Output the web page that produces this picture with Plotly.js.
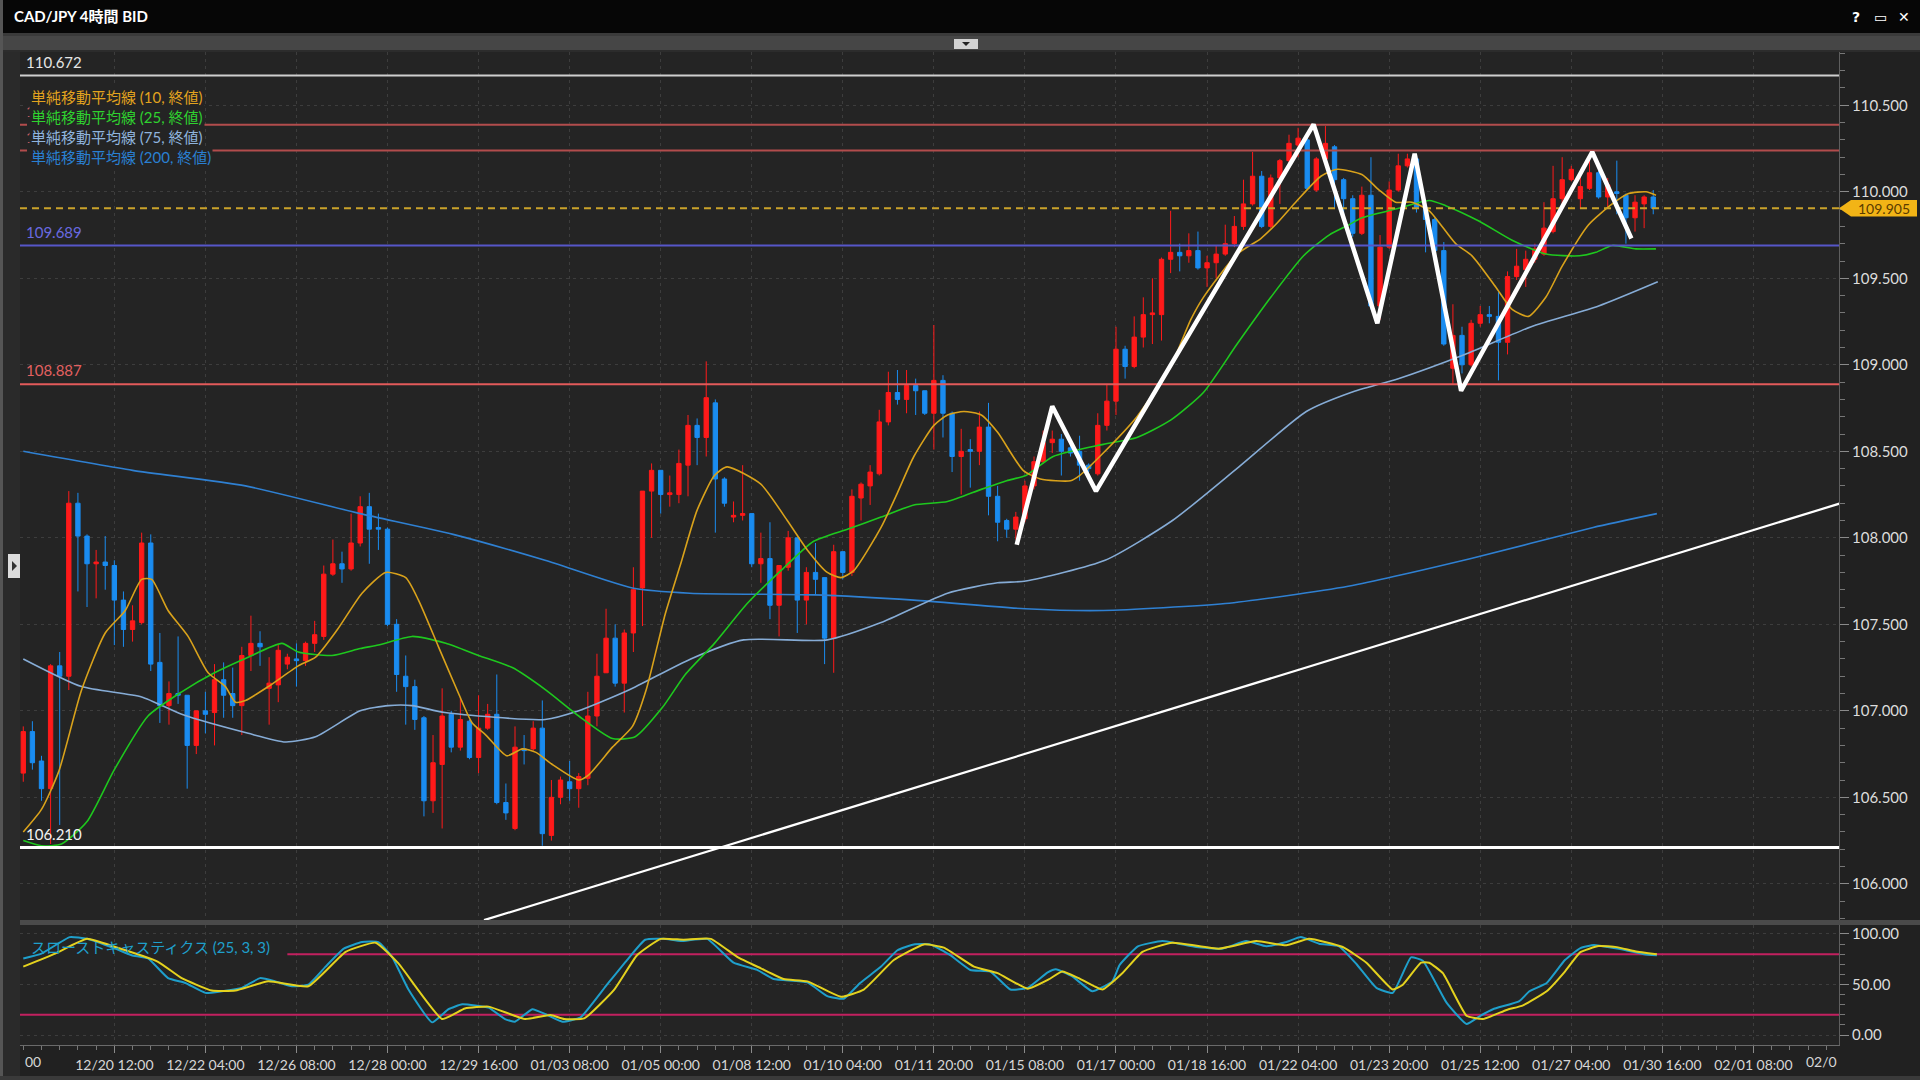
<!DOCTYPE html>
<html><head><meta charset="utf-8">
<script src="https://cdn.plot.ly/plotly-3.0.1.min.js"></script>
<style>html,body{margin:0;padding:0;background:#1e1e1e;overflow:hidden}#chart{width:1920px;height:1080px}</style>
</head><body><div id="chart"></div>
<script>
// ---------- DATA ----------
const tickBars = [10,20,30,40,50,60,70,80,90,100,110,120,130,140,150,160,170,180,190];
const tickLabels = ["12/20 12:00","12/22 04:00","12/26 08:00","12/28 00:00","12/29 16:00","01/03 08:00","01/05 00:00","01/08 12:00","01/10 04:00","01/11 20:00","01/15 08:00","01/17 00:00","01/18 16:00","01/22 04:00","01/23 20:00","01/25 12:00","01/27 04:00","01/30 16:00","02/01 08:00"];

const opens = [
106.64,106.88,106.71,106.55,107.26,107.20,108.20,108.01,107.85,107.86,
107.84,107.64,107.47,107.51,107.97,107.28,107.03,107.10,107.09,106.80,
107.00,106.99,107.18,107.10,107.03,107.32,107.39,107.13,107.15,107.27,
107.30,107.29,107.39,107.43,107.79,107.85,107.82,107.97,108.18,108.06,
108.05,107.50,107.20,107.14,106.96,106.48,106.69,106.98,106.79,106.94,
106.73,106.90,106.98,106.47,106.32,106.78,106.78,106.90,106.28,106.50,
106.59,106.55,106.61,106.97,107.22,107.42,107.16,107.45,107.71,108.27,
108.39,108.25,108.25,108.42,108.65,108.58,108.78,108.34,108.12,108.13,
108.14,107.85,107.88,107.61,107.83,108.00,107.64,107.80,107.77,107.42,
107.92,107.80,108.23,108.30,108.37,108.67,108.84,108.80,108.88,108.85,
108.72,108.91,108.72,108.47,108.51,108.50,108.64,108.24,108.10,108.05,
108.11,108.30,108.44,108.55,108.57,108.52,108.50,108.42,108.37,108.65,
108.79,109.09,108.99,109.16,109.29,109.29,109.61,109.65,109.63,109.66,
109.56,109.59,109.64,109.70,109.80,109.93,110.09,109.80,110.08,110.18,
110.27,110.30,110.01,110.19,110.26,110.07,109.96,109.76,109.98,109.34,
109.68,110.01,110.15,110.19,109.91,109.84,109.66,108.98,109.17,109.00,
109.24,109.29,109.28,109.13,109.51,109.55,109.61,109.64,109.77,109.96,
110.07,109.96,110.02,110.11,109.97,110.00,109.98,109.85,109.93,109.97];
const highs = [
106.91,106.94,106.74,107.27,107.34,108.27,108.26,108.02,107.93,108.01,
107.87,107.69,107.61,108.03,108.02,107.45,107.17,107.43,107.09,107.00,
107.11,107.27,107.28,107.25,107.37,107.55,107.46,107.31,107.38,107.33,
107.39,107.40,107.52,107.84,107.99,107.92,108.14,108.24,108.26,108.14,
108.06,107.53,107.32,107.18,106.97,106.86,107.13,107.00,107.08,106.95,
107.09,107.04,107.21,106.58,106.91,106.86,106.94,107.06,106.60,106.62,
106.71,106.64,107.11,107.33,107.59,107.50,107.47,107.83,108.27,108.43,
108.39,108.36,108.51,108.71,108.69,109.02,108.80,108.35,108.21,108.42,
108.14,108.03,108.09,107.84,108.04,108.00,107.83,107.97,107.77,107.96,
107.92,108.28,108.32,108.42,108.74,108.96,108.97,108.97,108.92,108.85,
109.23,108.94,108.73,108.63,108.57,108.73,108.78,108.30,108.11,108.15,
108.33,108.47,108.62,108.62,108.60,108.55,108.59,108.43,108.72,108.89,
109.22,109.11,109.28,109.39,109.50,109.62,109.89,109.70,109.76,109.77,
109.63,109.69,109.81,109.86,110.07,110.23,110.12,110.10,110.19,110.33,
110.37,110.32,110.20,110.38,110.27,110.08,109.98,110.03,110.20,109.75,
110.06,110.22,110.22,110.20,109.92,109.85,109.71,109.35,109.22,109.26,
109.34,109.34,109.42,109.54,109.67,109.66,109.70,109.94,110.15,110.20,
110.15,110.09,110.18,110.12,110.08,110.18,109.99,109.98,109.98,110.01];
const lows = [
106.59,106.66,106.48,106.23,106.34,107.12,107.69,107.60,107.65,107.70,
107.38,107.37,107.40,107.50,107.23,106.93,106.92,107.04,106.55,106.75,
106.87,106.80,106.96,106.96,106.86,107.23,107.26,106.92,107.05,107.24,
107.14,107.26,107.34,107.41,107.78,107.74,107.81,107.95,107.85,107.93,
107.49,107.11,106.92,106.89,106.39,106.41,106.32,106.76,106.77,106.72,
106.64,106.89,106.46,106.37,106.31,106.69,106.77,106.22,106.25,106.46,
106.48,106.44,106.57,106.91,107.22,107.14,106.99,107.34,107.49,108.00,
108.14,108.18,108.20,108.24,108.42,108.47,108.03,108.18,108.09,108.10,
107.83,107.74,107.53,107.43,107.81,107.45,107.50,107.67,107.27,107.22,
107.76,107.78,108.10,108.19,108.36,108.65,108.77,108.72,108.71,108.71,
108.51,108.58,108.38,108.25,108.29,108.42,108.13,107.98,108.00,107.99,
108.09,108.28,108.43,108.49,108.36,108.47,108.33,108.38,108.36,108.62,
108.71,108.92,108.98,109.10,109.12,109.14,109.53,109.54,109.59,109.55,
109.45,109.50,109.63,109.68,109.78,109.92,109.79,109.79,109.93,110.15,
110.20,110.01,110.00,110.18,109.90,109.84,109.74,109.75,109.32,109.26,
109.67,110.00,110.14,109.88,109.65,109.64,109.11,108.89,108.95,108.99,
109.22,109.24,108.91,109.06,109.49,109.45,109.59,109.63,109.76,109.90,
110.06,109.90,110.01,109.96,109.90,109.87,109.70,109.77,109.79,109.87];
const closes = [
106.88,106.70,106.55,107.26,107.20,108.20,108.01,107.85,107.86,107.84,
107.64,107.47,107.52,107.97,107.27,107.03,107.10,107.09,106.80,107.00,
106.98,107.18,107.09,107.03,107.32,107.39,107.37,107.16,107.35,107.31,
107.29,107.39,107.44,107.79,107.85,107.82,107.97,108.18,108.05,108.05,
107.50,107.21,107.14,106.95,106.48,106.70,106.97,106.79,106.95,106.73,
106.90,106.98,106.47,106.41,106.79,106.77,106.90,106.29,106.50,106.60,
106.55,106.62,106.97,107.20,107.42,107.16,107.45,107.70,108.27,108.39,
108.25,108.26,108.43,108.65,108.58,108.81,108.34,108.20,108.13,108.14,
107.85,107.88,107.61,107.84,108.00,107.64,107.80,107.76,107.42,107.92,
107.80,108.24,108.31,108.38,108.67,108.84,108.80,108.88,108.85,108.72,
108.91,108.72,108.47,108.50,108.50,108.64,108.24,108.09,108.05,108.12,
108.30,108.44,108.55,108.57,108.50,108.49,108.42,108.40,108.65,108.79,
109.09,108.99,109.16,109.29,109.30,109.61,109.65,109.63,109.66,109.56,
109.59,109.64,109.70,109.80,109.93,110.09,109.80,110.08,110.18,110.28,
110.31,110.02,110.19,110.28,110.07,109.96,109.76,109.98,109.34,109.68,
110.01,110.15,110.19,109.91,109.84,109.66,109.12,109.17,109.00,109.24,
109.29,109.28,109.13,109.51,109.57,109.61,109.67,109.79,109.96,110.07,
110.13,110.03,110.11,109.97,110.04,109.99,109.85,109.94,109.97,109.905];

// moving averages: [bar, value]
const sma10 = [[0,106.30],[2,106.43],[3.9,106.65],[6.4,107.12],[9,107.45],[11.2,107.58],[13,107.76],[14.1,107.76],[15.9,107.58],[18.1,107.43],[20.3,107.22],[22.2,107.14],[23.3,107.05],[24.4,107.06],[26.9,107.14],[30.2,107.26],[32.1,107.31],[34.5,107.47],[37.2,107.68],[39.8,107.80],[42,107.77],[43.4,107.64],[45.6,107.37],[47.8,107.10],[49.3,106.93],[50.8,106.86],[53.1,106.74],[54.8,106.78],[56.3,106.76],[58.1,106.69],[61,106.60],[62.1,106.63],[64.7,106.79],[66.9,106.91],[68.4,107.12],[70.5,107.56],[72.2,107.85],[74,108.16],[75.9,108.36],[77.3,108.41],[81,108.31],[83.9,108.10],[86.1,107.93],[88.3,107.80],[89.8,107.77],[91.2,107.81],[94.2,108.06],[96,108.26],[97.8,108.47],[100,108.65],[101.5,108.71],[103.3,108.73],[105.2,108.71],[107,108.61],[109.8,108.39],[111.7,108.34],[115,108.33],[116,108.36],[118.6,108.49],[122.3,108.70],[126,108.99],[128.2,109.26],[129.6,109.39],[133.3,109.64],[135.9,109.73],[137.7,109.82],[139.9,109.95],[142.5,110.09],[144.3,110.13],[147,110.10],[148.9,110.01],[150.7,109.94],[152.5,109.94],[154.4,109.89],[157.3,109.70],[159.1,109.63],[161.7,109.45],[163.5,109.32],[165.3,109.28],[167.2,109.39],[169,109.57],[171.9,109.81],[174.5,109.93],[176.3,109.99],[178.2,110.00],[179.3,109.98]];
const sma25 = [[0,106.25],[2,106.22],[4.2,106.23],[7,106.36],[10,106.66],[13.7,106.97],[17.4,107.11],[21,107.22],[24.7,107.31],[28.4,107.39],[30.2,107.34],[33.9,107.32],[37,107.36],[39,107.38],[42.7,107.43],[46.4,107.39],[50,107.32],[53.7,107.25],[57.4,107.12],[61,106.97],[64.7,106.84],[67.2,106.85],[70.2,107.02],[72.7,107.21],[75.9,107.39],[79.5,107.62],[83.2,107.81],[86.8,107.98],[90.5,108.05],[94.2,108.12],[97.8,108.19],[101.5,108.21],[105.2,108.28],[108,108.33],[110.1,108.36],[113.1,108.47],[118.6,108.54],[122.3,108.58],[126,108.68],[129.6,108.84],[133.3,109.12],[137,109.39],[140.6,109.63],[143.4,109.75],[145.6,109.81],[147,109.85],[150.7,109.90],[154.4,109.95],[156.2,109.92],[159.9,109.83],[163.5,109.72],[167.2,109.64],[170.9,109.63],[172.7,109.65],[174.5,109.69],[177.1,109.67],[179.3,109.67]];
const sma75 = [[0,107.30],[6.4,107.14],[13,107.08],[17.4,106.98],[24.7,106.87],[28.8,106.82],[32.1,106.85],[37,107.00],[40.1,107.03],[42.7,107.03],[46.3,106.99],[57.3,106.95],[61,107.00],[66.5,107.12],[73.3,107.30],[79.1,107.41],[88.3,107.41],[94.2,107.51],[101.5,107.68],[107,107.74],[110.1,107.75],[118.8,107.87],[126.2,108.10],[133.5,108.41],[140.9,108.73],[145.8,108.84],[151,108.92],[158.3,109.06],[165.6,109.22],[173,109.34],[179.5,109.48]];
const sma200 = [[0,108.50],[12,108.39],[24.4,108.30],[37,108.14],[47.2,108.02],[57.3,107.87],[66.9,107.71],[73.2,107.68],[86.8,107.67],[97.8,107.64],[110,107.59],[118.6,107.58],[132,107.62],[145.5,107.72],[159,107.88],[172.4,108.06],[179.4,108.14]];

// slow stochastics (25,3,3): [bar, value]
const stochK = [[0,75.8],[2,80.6],[5.1,96.9],[7,95.2],[10.1,85.5],[11.9,79],[13.7,75.8],[15.9,56.3],[17.8,51.5],[20,41.7],[21.8,43.3],[24,46.6],[26,56.3],[27.7,53.1],[29.5,48.2],[31.3,49.8],[33.2,67.7],[35.2,85.5],[37.2,92],[39,92],[40.5,77.4],[42.3,45],[44.9,12.5],[46.7,25.5],[48.2,30.4],[51.1,27.1],[52.9,15.8],[54,13.2],[55.9,25.5],[57.5,20],[59.2,13.2],[61.2,17.4],[64.1,49.8],[66.3,74.2],[68.3,94.3],[70.3,95.2],[72.2,93],[75.1,95.2],[78,71.6],[80.6,64.4],[82.4,55.4],[86.1,52.1],[88.3,38.5],[90.1,35.9],[91.9,51.5],[94.2,67.7],[96,83.9],[97.8,89.7],[99.6,89.7],[101.8,79],[104,64.4],[106.2,62.8],[108.4,45],[110.3,46.6],[112.5,62],[113.4,65.1],[115.2,58],[117.4,43.3],[119.6,53.1],[120.4,69.3],[122.4,87.8],[125.1,93],[128.8,87.1],[131.7,85.5],[134.3,93],[136.5,87.8],[138.7,92],[140.3,96.9],[142.3,90.4],[144.5,87.8],[146.4,70.3],[148.6,46.6],[150.4,41.7],[152.4,76.8],[153.7,73.5],[156.3,32],[158.5,10.9],[160,19],[161.4,25.5],[164.3,33.6],[165.4,43.3],[167.3,51.5],[169.3,74.2],[171,86],[172.5,89],[174,87],[176,84],[178,80],[179.4,79]];
const stochD = [[0,67.7],[3.5,80.6],[7,95.2],[10.1,87.1],[14.8,72.5],[17.4,56.3],[20.7,44],[23.3,44],[26.9,53.1],[31.3,48.2],[35.4,82.3],[38.7,91.4],[41.2,70.9],[46,15.8],[48.5,26.2],[51.1,28.1],[55.1,15.8],[57.9,19.7],[59.4,15.8],[61.6,16.4],[64.9,45],[67.4,79],[70,95.2],[72.5,94.3],[75.5,95.2],[78.4,77.4],[81,66],[83.5,55.4],[86.1,53.1],[89.8,37.8],[92.3,45],[95.6,74.2],[98.9,89.7],[101.1,86.5],[104.4,67.7],[107,61.2],[110.3,45.9],[112.6,55],[114.1,62.8],[115.9,56.3],[118.5,45],[120.7,61.2],[122.9,82.3],[126.2,91.4],[131.3,85.5],[135.4,93],[138.7,88.8],[141.2,95.2],[144.9,87.1],[147.5,71.6],[150.4,45],[151.5,49.8],[153.5,71.6],[154.4,71.6],[155.9,61.2],[158.5,19],[160.3,15.8],[162.9,24.8],[164.7,29.4],[167.3,43.3],[169.3,62.8],[171,82],[173,88],[175,87],[177,83],[179.4,80]];
const stochLevels = [80, 20];

// horizontal price levels
const levelValues = [110.672, 110.387, 110.238, 109.905, 109.689, 108.887, 106.210];
const lastPrice = 109.905;

// hand-drawn zigzag and trend line: [bar, price]
const zigzag = [[109.1,107.96],[113,108.76],[117.8,108.27],[141.7,110.39],[148.7,109.24],[152.8,110.22],[157.9,108.85],[172.3,110.23],[176.6,109.73]];
const trend = [[50.6,105.79],[199.6,108.20]];

const legendNames = ["単純移動平均線 (10, 終値)","単純移動平均線 (25, 終値)","単純移動平均線 (75, 終値)","単純移動平均線 (200, 終値)"];
const stochName = "スローストキャスティクス (25, 3, 3)";
const titleText = "CAD/JPY 4時間 BID";

// ---------- LAYOUT HELPERS ----------
const W = 1920, H = 1080;
const px = v => v / W, py = v => 1 - v / H;
const X0 = 20, X1 = 1839, MT = 52, MB = 920, ST = 925, SB = 1045;
const XR = [-0.36, 199.4];
const FONT = 'Lato, "Noto Sans CJK JP", "Noto Sans", sans-serif';
const BG = '#242424';

const bars = opens.map((_, i) => i);
const col = (a, k) => a.map(p => p[k]);

const traces = [];
traces.push({
  type: 'candlestick', x: bars, open: opens, high: highs, low: lows, close: closes,
  xaxis: 'x', yaxis: 'y', whiskerwidth: 0,
  increasing: {line: {color: '#ff1a1a', width: 1}, fillcolor: '#ff1a1a'},
  decreasing: {line: {color: '#1a8cf0', width: 1}, fillcolor: '#1a8cf0'},
  hoverinfo: 'skip'
});
const maStyles = [[sma200, '#2f80d2'], [sma75, '#86acd6'], [sma25, '#1ec81e'], [sma10, '#d9a21b']];
maStyles.forEach(([d, c]) => traces.push({
  type: 'scatter', mode: 'lines', x: col(d, 0), y: col(d, 1), xaxis: 'x', yaxis: 'y',
  line: {color: c, width: 1.6, shape: 'spline', smoothing: 0.6}, hoverinfo: 'skip'
}));
const levelStyle = [
  {color: '#cfcfcf', width: 2}, {color: '#b24c4c', width: 2}, {color: '#b24c4c', width: 2},
  {color: '#caa22a', width: 2, dash: '7px,5px'}, {color: '#5656c8', width: 2},
  {color: '#e25a5a', width: 2}, {color: '#ffffff', width: 3}
];
levelValues.forEach((v, k) => traces.push({
  type: 'scatter', mode: 'lines', x: XR, y: [v, v], xaxis: 'x', yaxis: 'y',
  line: levelStyle[k], hoverinfo: 'skip'
}));
traces.push({type: 'scatter', mode: 'lines', x: col(trend, 0), y: col(trend, 1), xaxis: 'x', yaxis: 'y',
  line: {color: '#ffffff', width: 2.2}, hoverinfo: 'skip'});
traces.push({type: 'scatter', mode: 'lines', x: col(zigzag, 0), y: col(zigzag, 1), xaxis: 'x', yaxis: 'y',
  line: {color: '#ffffff', width: 4.5}, hoverinfo: 'skip'});
// the upper stochastic band starts right of the indicator caption (caption box hides its left part)
stochLevels.forEach((v, k) => traces.push({
  type: 'scatter', mode: 'lines', x: [k === 0 ? 29 : XR[0], XR[1]], y: [v, v], xaxis: 'x', yaxis: 'y2',
  line: {color: '#c2205f', width: 2}, hoverinfo: 'skip'
}));
traces.push({type: 'scatter', mode: 'lines', x: col(stochK, 0), y: col(stochK, 1), xaxis: 'x', yaxis: 'y2',
  line: {color: '#1f9fcb', width: 2, shape: 'spline', smoothing: 0.4}, hoverinfo: 'skip'});
traces.push({type: 'scatter', mode: 'lines', x: col(stochD, 0), y: col(stochD, 1), xaxis: 'x', yaxis: 'y2',
  line: {color: '#e4d21e', width: 2, shape: 'spline', smoothing: 0.4}, hoverinfo: 'skip'});

// ---------- SHAPES ----------
const rect = (x0, y0, x1, y1, fill, layer) => ({type: 'rect', xref: 'paper', yref: 'paper',
  x0: px(x0), x1: px(x1), y0: py(y1), y1: py(y0), fillcolor: fill, line: {width: 0}, layer: layer || 'above'});
const shapes = [
  rect(0, 0, 1920, 33, '#060606'),
  rect(0, 33, 1920, 36, '#3a3a3a'),
  rect(0, 36, 1920, 50, '#464646'),
  rect(0, 50, 1920, 52, '#2c2c2c'),
  rect(954, 39, 978, 49, '#d2d2d2'),
  {type: 'path', xref: 'paper', yref: 'paper', path: `M ${px(962)},${py(42)} L ${px(970)},${py(42)} L ${px(966)},${py(46)} Z`, fillcolor: '#222', line: {width: 0}},
  rect(0, 52, X0, 1080, '#2a2a2a'),
  rect(0, 0, 3, 1080, '#555555'),
  rect(8, 554, 20, 578, '#dcdcdc'),
  {type: 'path', xref: 'paper', yref: 'paper', path: `M ${px(12)},${py(561)} L ${px(17)},${py(566)} L ${px(12)},${py(571)} Z`, fillcolor: '#333', line: {width: 0}},
  rect(X0, MB, 1920, ST, '#4a4a4a'),
  rect(0, 1076, 1920, 1080, '#3a3a3a'),
  // legend panel background (hides the left part of the two red level lines)
  rect(27, 86, 183, 166, BG),
  {type: 'path', xref: 'paper', yref: 'y',
   path: `M ${px(X1)},${lastPrice} L ${px(1851)},${lastPrice + 0.048} L ${px(1917)},${lastPrice + 0.048} L ${px(1917)},${lastPrice - 0.048} L ${px(1851)},${lastPrice - 0.048} Z`,
   fillcolor: '#f2b416', line: {width: 0}, layer: 'above'}
];

// ---------- ANNOTATIONS ----------
const ann = [];
ann.push({xref: 'paper', yref: 'paper', x: px(12), y: py(16), xanchor: 'left', yanchor: 'middle', showarrow: false,
  text: '<b>' + titleText + '</b>', font: {family: FONT, size: 15, color: '#ffffff'}});
[['?', 1856], ['▭', 1880], ['✕', 1904]].forEach(([t, x]) => ann.push({xref: 'paper', yref: 'paper', x: px(x), y: py(17),
  xanchor: 'center', yanchor: 'middle', showarrow: false, text: '<b>' + t + '</b>', font: {family: 'DejaVu Sans', size: 14, color: '#ffffff'}}));
const labelColors = ['#e6e6e6', '#d05a5a', '#d05a5a', null, '#6a6ae0', '#e26060', '#f2f2f2'];
levelValues.forEach((v, k) => {
  if (!labelColors[k]) return;
  ann.push({xref: 'paper', yref: 'y', x: px(24), y: v, xanchor: 'left', yanchor: 'bottom', yshift: 3, showarrow: false,
    text: v.toFixed(3), font: {family: FONT, size: 15, color: labelColors[k]}});
});
const legendColors = ['#e2a31e', '#2fd22f', '#8fb4de', '#2a80d2'];
const legendY = [97, 117, 137, 157];
legendNames.forEach((t, k) => ann.push({xref: 'paper', yref: 'paper', x: px(29), y: py(legendY[k]), xanchor: 'left', yanchor: 'middle',
  showarrow: false, text: t, bgcolor: BG, borderpad: 1, font: {family: FONT, size: 15, color: legendColors[k]}}));
ann.push({xref: 'paper', yref: 'paper', x: px(29), y: py(947), xanchor: 'left', yanchor: 'middle', showarrow: false,
  text: stochName, font: {family: FONT, size: 15, color: '#1f9fcb'}});
ann.push({xref: 'paper', yref: 'y', x: px(1884), y: lastPrice, xanchor: 'center', yanchor: 'middle', showarrow: false,
  text: lastPrice.toFixed(3), font: {family: FONT, size: 14, color: '#5a3c00'}});
ann.push({xref: 'paper', yref: 'paper', x: px(X0 + 3), y: py(1061), xanchor: 'left', yanchor: 'middle', showarrow: false,
  text: '00', font: {family: FONT, size: 14, color: '#d6d6d6'}});
ann.push({xref: 'paper', yref: 'paper', x: px(X1), y: py(1061), xanchor: 'right', yanchor: 'middle', showarrow: false,
  text: '02/0', font: {family: FONT, size: 14, color: '#d6d6d6'}});

const gridDash = '3px,4px';
const layout = {
  width: W, height: H, margin: {l: 0, r: 0, t: 0, b: 0},
  paper_bgcolor: '#212121', plot_bgcolor: BG,
  showlegend: false, hovermode: false, dragmode: false,
  font: {family: FONT, color: '#d6d6d6', size: 14},
  boxgap: 0.32,
  xaxis: {
    domain: [px(X0), px(X1)], range: XR, anchor: 'y2', tickmode: 'array', tickvals: tickBars, ticktext: tickLabels,
    tickangle: 0, ticks: 'outside', ticklen: 7, tickcolor: '#8a8a8a', showline: true, linecolor: '#6a6a6a', linewidth: 1,
    showgrid: true, gridcolor: '#3d3d3d', griddash: gridDash, zeroline: false,
    tickfont: {family: FONT, size: 14, color: '#d6d6d6'},
    minor: {tickmode: 'linear', tick0: 0, dtick: 2, ticks: 'outside', ticklen: 4, tickcolor: '#777', showgrid: false},
    rangeslider: {visible: false}, fixedrange: true
  },
  yaxis: {
    domain: [py(MB), py(MT)], range: [105.791, 110.808], side: 'right', anchor: 'x',
    tickmode: 'linear', tick0: 0, dtick: 0.5, tickformat: '.3f', ticks: 'outside', ticklen: 9, tickcolor: '#8a8a8a',
    showline: true, linecolor: '#5e5e5e', showgrid: true, gridcolor: '#3d3d3d', griddash: gridDash, zeroline: false,
    tickfont: {family: FONT, size: 15, color: '#dcdcdc'},
    minor: {tickmode: 'linear', tick0: 0, dtick: 0.1, ticks: 'outside', ticklen: 5, tickcolor: '#777', showgrid: false},
    fixedrange: true
  },
  yaxis2: {
    domain: [py(SB), py(ST)], range: [-9.9, 108.9], side: 'right', anchor: 'x',
    tickmode: 'array', tickvals: [0, 50, 100], ticktext: ['0.00', '50.00', '100.00'], ticks: 'outside', ticklen: 9, tickcolor: '#8a8a8a',
    showline: true, linecolor: '#5e5e5e', showgrid: true, gridcolor: '#3d3d3d', griddash: gridDash, zeroline: false,
    tickfont: {family: FONT, size: 15, color: '#dcdcdc'},
    minor: {tickmode: 'linear', tick0: 0, dtick: 10, ticks: 'outside', ticklen: 5, tickcolor: '#777', showgrid: false},
    fixedrange: true
  },
  shapes: shapes,
  annotations: ann
};

Plotly.newPlot('chart', traces, layout, {staticPlot: true, displayModeBar: false});
</script>
</body></html>
